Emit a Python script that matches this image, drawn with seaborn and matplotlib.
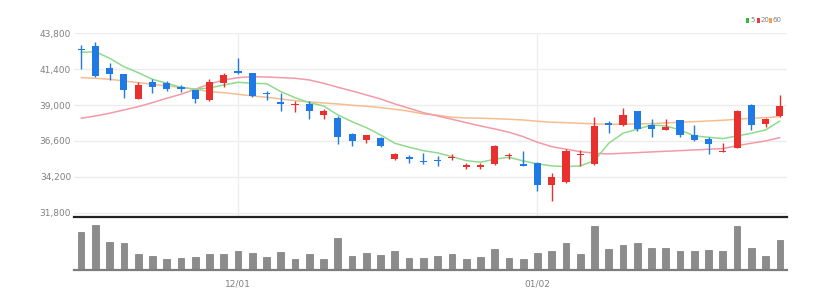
import numpy as np
import pandas as pd
import matplotlib
matplotlib.use("Agg")
import matplotlib.pyplot as plt
from matplotlib.patches import Rectangle
import seaborn as sns

# ---------------- data ----------------
opens = [42780, 42971, 41500, 41059, 39408, 40565, 40458, 40190, 39990, 39361,
         40498, 41300, 41126, 39790, 39187, 38987, 39074, 38318, 38158, 37068,
         36667, 36821, 35397, 35510, 35263, 35330, 35464, 34883, 34883, 35043,
         35577, 35063, 35150, 33659, 33840, 35644, 35063, 37804, 37650, 38586,
         37670, 37336, 37984, 36981, 36714, 35885, 36153, 39007, 37737, 38271]
highs = [43018, 43218, 41815, 41080, 40524, 40765, 40591, 40364, 40010, 40725,
         41126, 42129, 41166, 39943, 39830, 39254, 39254, 38720, 38271, 37155,
         37021, 36888, 35818, 35684, 35778, 35597, 35711, 35110, 35150, 36333,
         35818, 35952, 35216, 34481, 36046, 36000, 38225, 37957, 38786, 38600,
         38051, 38051, 38000, 37670, 36888, 36447, 38673, 39074, 38137, 39655]
lows = [41393, 40859, 40698, 39475, 39390, 39830, 39943, 39856, 39120, 39300,
        40230, 41100, 39562, 39341, 38626, 38539, 38051, 38091, 36420, 36286,
        36487, 36179, 35330, 35110, 35062, 34929, 35330, 34709, 34709, 34996,
        35417, 34950, 33238, 32589, 33773, 34929, 34996, 37115, 37603, 37249,
        36848, 37316, 36888, 36620, 35731, 35885, 36112, 37336, 37516, 38225]
closes = [42700, 40966, 41079, 39990, 40324, 40190, 40076, 40097, 39428, 40565,
          41032, 41146, 39629, 39723, 39074, 39074, 38626, 38626, 36848, 36580,
          36981, 36246, 35731, 35417, 35196, 35263, 35551, 34976, 34976, 36246,
          35664, 34950, 33639, 34213, 35952, 35731, 37623, 37690, 38318, 37382,
          37402, 37516, 37021, 36687, 36380, 35952, 38626, 37690, 38051, 38920]
volumes = [113, 136, 85, 82, 48, 43, 32, 35, 39, 49,
           49, 58, 52, 39, 53, 32, 48, 32, 97, 43,
           52, 44, 56, 35, 35, 43, 49, 32, 39, 64,
           35, 32, 51, 57, 82, 48, 132, 62, 74, 82,
           66, 65, 56, 58, 61, 56, 132, 66, 41, 90]
ma5 = [42530, 42570, 42130, 41567, 41166, 40725, 40458, 40190, 40056, 40143,
       40344, 40524, 40450, 40431, 39900, 39495, 39160, 38940, 38338, 37890,
       37490, 37000, 36446, 36180, 35952, 35800, 35550, 35283, 35176, 35377,
       35510, 35263, 35063, 34930, 34883, 34930, 35283, 36446, 37115, 37382,
       37670, 37603, 37336, 36935, 36847, 36755, 36935, 37115, 37336, 37937]
ma20 = [38118, 38271, 38452, 38673, 38893, 39160, 39455, 39722, 40056, 40410,
        40678, 40832, 40899, 40878, 40832, 40792, 40678, 40458, 40190, 39943,
        39675, 39408, 39074, 38786, 38493, 38271, 38051, 37824, 37603, 37403,
        37182, 36888, 36513, 36219, 36046, 35885, 35778, 35731, 35778, 35818,
        35865, 35912, 35952, 35998, 36046, 36086, 36286, 36446, 36600, 36821]
ma60 = [40832, 40792, 40725, 40611, 40498, 40390, 40277, 40190, 40056, 39900,
        39830, 39722, 39609, 39522, 39408, 39295, 39207, 39140, 39074, 38987,
        38920, 38826, 38720, 38586, 38405, 38318, 38185, 38138, 38118, 38091,
        38051, 38004, 37917, 37850, 37824, 37784, 37737, 37717, 37717, 37737,
        37757, 37804, 37850, 37890, 37937, 37984, 38051, 38118, 38158, 38225]
ma_labels = ["5", "20", "60"]
y_ticks = [31800, 34200, 36600, 39000, 41400, 43800]
x_tick_pos = [11, 32]
x_tick_labels = ["12/01", "01/02"]

# ---------------- styling ----------------
sns.set_theme(style="white")
plt.rcParams["font.family"] = ["Liberation Sans Narrow", "DejaVu Sans"]

UP = "#e8302f"
DOWN = "#1f7ae6"
MA_COLORS = ["#8edb8e", "#f29aa8", "#f7bd8f"]
LEG_COLORS = ["#2ebd2e", "#ef3b3b", "#f5a04a"]
TXT = "#808080"

W, H = 839, 303
fig = plt.figure(figsize=(W / 100, H / 100), dpi=100)
ax = fig.add_axes([74 / W, (H - 217.3) / H, 713 / W, (217.3 - 32.5) / H])
axv = fig.add_axes([74 / W, (H - 270) / H, 713 / W, (270 - 218.5) / H])

n = len(opens)
idx = np.arange(n)
df = pd.DataFrame({"i": idx, "open": opens, "high": highs, "low": lows,
                   "close": closes, "vol": volumes,
                   "ma5": ma5, "ma20": ma20, "ma60": ma60})

# grid
for t in y_ticks:
    ax.axhline(t, color="#ececec", lw=1, zorder=0)
for p in x_tick_pos:
    ax.axvline(p, color="#eeeeee", lw=1, zorder=0)

# moving averages
for col, c in zip(["ma60", "ma20", "ma5"], [MA_COLORS[2], MA_COLORS[1], MA_COLORS[0]]):
    sns.lineplot(data=df, x="i", y=col, ax=ax, color=c, lw=1.1, zorder=2)

# candles
up = df["close"] >= df["open"]
colors = np.where(up, UP, DOWN)
body_low = np.minimum(df["open"], df["close"])
body_h = np.maximum(np.abs(df["close"] - df["open"]), 70)
ax.vlines(df["i"], df["low"], df["high"], colors=colors, lw=1.0, zorder=3)
ax.bar(df["i"], body_h, bottom=body_low, width=0.5, color=colors, lw=0, zorder=4)

ax.set_xlim(-0.5, n - 0.5)
ax.set_ylim(31800 - 4.6 * 66.85, 43800 + 0.8 * 66.85)
ax.set_yticks(y_ticks)
ax.set_yticklabels([f"{t:,}" for t in y_ticks])
ax.tick_params(axis="y", length=0, pad=2, labelsize=6.5, labelcolor=TXT)
ax.set_xticks([])
ax.set_xlabel("")
ax.set_ylabel("")
for s in ["top", "right", "left"]:
    ax.spines[s].set_visible(False)
ax.spines["bottom"].set_color("#222222")
ax.spines["bottom"].set_linewidth(1.6)

# volume
sns.barplot(data=df, x="i", y="vol", ax=axv, native_scale=True,
            color="#8c8c8c", width=0.47, saturation=1, edgecolor="#7a7a7a", lw=0.5)
axv.set_xlim(-0.5, n - 0.5)
axv.set_ylim(0, 136 * 51.5 / 45.3)
axv.set_yticks([])
axv.set_xticks(x_tick_pos)
axv.set_xticklabels(x_tick_labels)
axv.tick_params(axis="x", length=2.5, width=0.8, color="#777777", pad=4,
                labelsize=6.5, labelcolor=TXT)
axv.set_xlabel("")
axv.set_ylabel("")
for s in ["top", "right", "left"]:
    axv.spines[s].set_visible(False)
axv.spines["bottom"].set_color("#7d7d7d")
axv.spines["bottom"].set_linewidth(1.6)

# legend (top right)
sq_x = [745.5, 756.5, 768.5]
tx_x = [750.0, 760.5, 772.5]
for lab, c, sx, tx in zip(ma_labels, LEG_COLORS, sq_x, tx_x):
    fig.patches.append(Rectangle((sx / W, (H - 23.3) / H), 3 / W, 5.6 / H,
                                 transform=fig.transFigure, color=c, lw=0))
    fig.text(tx / W, (H - 20.5) / H, lab, fontsize=5, color=TXT,
             ha="left", va="center")

fig.savefig("out.png", dpi=100, facecolor="white")
